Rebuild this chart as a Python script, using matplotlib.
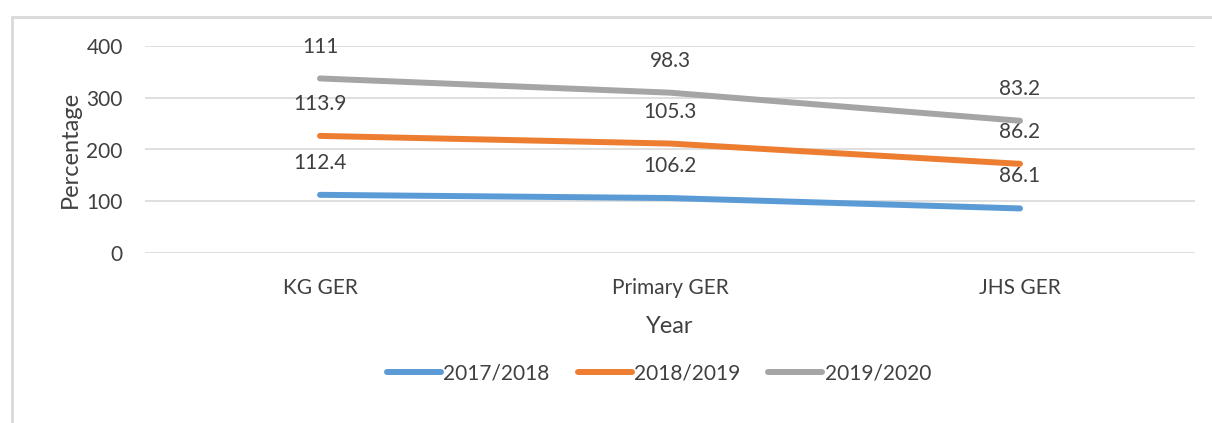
import numpy as np
import matplotlib.pyplot as plt
from matplotlib.patches import Rectangle

categories = ["KG GER", "Primary GER", "JHS GER"]
series_names = ["2017/2018", "2018/2019", "2019/2020"]
v2017 = [112.4, 106.2, 86.1]
v2018 = [113.9, 105.3, 86.2]
v2019 = [111, 98.3, 83.2]
colors = ["#5B9BD5", "#ED7D31", "#A5A5A5"]

plt.rcParams['font.family'] = ['Lato', 'DejaVu Sans']
txt = "#404040"

fig = plt.figure(figsize=(12.12, 4.23), dpi=100)
ax = fig.add_axes([145/1212, 1-253/423, 1050/1212, 207/423])

# outer chart frame (cut by the image edges)
fig.patches.append(Rectangle((12/1212, -0.1), 1.2, 1-17/423+0.1,
                             transform=fig.transFigure, fill=False,
                             edgecolor="#D9D9D9", lw=2))

x = np.arange(len(categories))
base = np.zeros(len(categories))
for name, vals, c in zip(series_names, [v2017, v2018, v2019], colors):
    top = base + np.array(vals)
    ax.plot(x, top, color=c, lw=4.3, solid_capstyle='round', label=name, zorder=3)
    for xi, yi, v in zip(x, top, vals):
        ax.annotate(f"{v:g}", (xi, yi), xytext=(0, 23), textcoords='offset points',
                    ha='center', va='center', fontsize=15, color=txt)
    base = top

ax.set_xlim(-0.5, 2.5)
ax.set_ylim(0, 400)
ax.set_yticks([0, 100, 200, 300, 400])
ax.set_xticks(x)
ax.set_xticklabels(categories)
ax.grid(axis='y', color="#D9D9D9", lw=1.2)
ax.set_axisbelow(True)
for s in ax.spines.values():
    s.set_visible(False)
ax.tick_params(length=0, labelsize=15, labelcolor=txt)
ax.tick_params(axis='y', pad=16)
ax.tick_params(axis='x', pad=18)
ax.set_xlabel("Year", fontsize=17, color=txt, labelpad=13)
ax.set_ylabel("Percentage", fontsize=17, color=txt, labelpad=4)

fig.legend(loc='center', bbox_to_anchor=(659/1212, 1-373/423), ncol=3, frameon=False,
           fontsize=15, labelcolor=txt, handlelength=2.6, handletextpad=0.1,
           columnspacing=1.35)

fig.savefig("out.png", dpi=100)
